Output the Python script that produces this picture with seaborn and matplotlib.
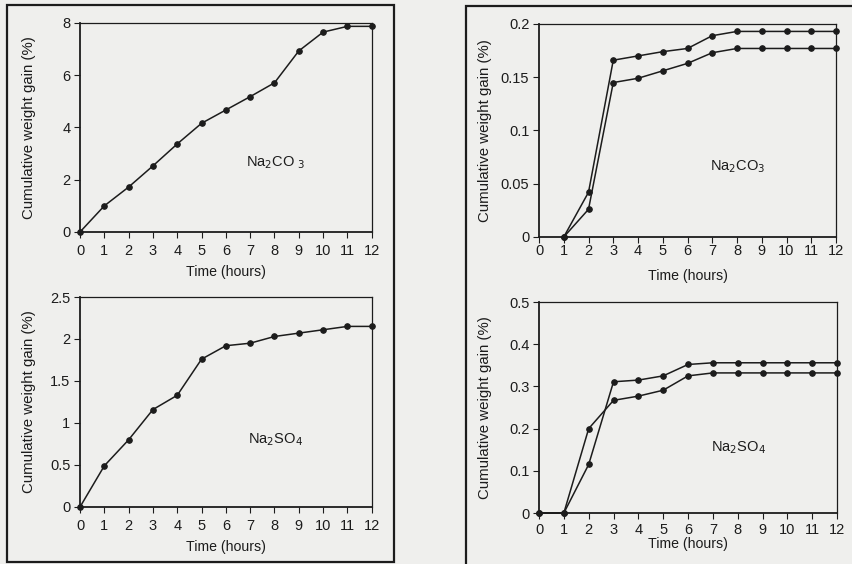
import numpy as np
import pandas as pd
import matplotlib
matplotlib.use("Agg")
import matplotlib.pyplot as plt
import matplotlib.patches as mpatches
import seaborn as sns

# ── Data ─────────────────────────────────────────────────
hours = list(range(0, 13))
hours_r = list(range(1, 13))

# left column: single series
na2co3_left = [0, 1.0, 1.72, 2.53, 3.37, 4.16, 4.67, 5.18, 5.71, 6.93, 7.65, 7.87, 7.87]
na2so4_left = [0, 0.49, 0.80, 1.16, 1.33, 1.76, 1.92, 1.95, 2.03, 2.07, 2.11, 2.15, 2.15]

# right column: two series each
na2co3_r_a = [0, 0.042, 0.166, 0.170, 0.174, 0.177, 0.189, 0.193, 0.193, 0.193, 0.193, 0.193]
na2co3_r_b = [0, 0.026, 0.145, 0.149, 0.156, 0.163, 0.173, 0.177, 0.177, 0.177, 0.177, 0.177]
na2so4_r_a = [0, 0, 0.115, 0.311, 0.315, 0.325, 0.352, 0.356, 0.356, 0.356, 0.356, 0.356, 0.356]
na2so4_r_b = [0, 0, 0.200, 0.267, 0.277, 0.291, 0.325, 0.332, 0.332, 0.332, 0.332, 0.332, 0.332]

BG = "#efefed"
INK = "#1c1c1c"

sns.set_style("ticks")
plt.rcParams.update({
    "font.family": ["Liberation Sans", "DejaVu Sans"],
    "font.size": 10,
    "axes.facecolor": BG,
    "figure.facecolor": BG,
    "axes.edgecolor": INK,
    "axes.linewidth": 1.0,
    "xtick.color": INK,
    "ytick.color": INK,
    "xtick.direction": "out",
    "ytick.direction": "out",
    "xtick.major.size": 4,
    "ytick.major.size": 4,
    "text.color": INK,
    "axes.labelcolor": INK,
})

fig = plt.figure(figsize=(8.53, 5.64), dpi=100)

# outer frames around each column
fig.patches.append(mpatches.Rectangle((7 / 853, 1 - 562 / 564), 387 / 853, 557 / 564,
                                      transform=fig.transFigure, fill=False,
                                      edgecolor=INK, linewidth=1.6))
fig.patches.append(mpatches.Rectangle((466 / 853, -0.02), 0.6, 1 - 6 / 564 + 0.02,
                                      transform=fig.transFigure, fill=False,
                                      edgecolor=INK, linewidth=1.6))

ax_tl = fig.add_axes([0.0938, 0.5887, 0.342, 0.3706])
ax_bl = fig.add_axes([0.0938, 0.1011, 0.342, 0.3723])
ax_tr = fig.add_axes([0.6319, 0.5798, 0.3482, 0.3777])
ax_br = fig.add_axes([0.6319, 0.0904, 0.3494, 0.3741])


def draw(ax, x, series):
    for s in series:
        df = pd.DataFrame({"t": x, "v": s})
        sns.lineplot(data=df, x="t", y="v", ax=ax, color=INK, linewidth=1.1,
                     marker="o", markersize=4, markeredgecolor=INK,
                     clip_on=False, zorder=3)


draw(ax_tl, hours, [na2co3_left])
draw(ax_bl, hours, [na2so4_left])
draw(ax_tr, hours_r, [na2co3_r_a, na2co3_r_b])
draw(ax_br, hours, [na2so4_r_a, na2so4_r_b])

# axis, ymax, yticks, label, label y, x tick pad, xlabel pad, ylabel x (axes coords)
setup = [
    (ax_tl, 8, [0, 2, 4, 6, 8], r"Na$_2$CO$_{\ 3}$", 2.64, 5, 5, -0.152),
    (ax_bl, 2.5, [0, 0.5, 1, 1.5, 2, 2.5], r"Na$_2$SO$_4$", 0.80, 5, 5, -0.152),
    (ax_tr, 0.2, [0, 0.05, 0.1, 0.15, 0.2], r"Na$_2$CO$_3$", 0.066, 1, 8, -0.157),
    (ax_br, 0.5, [0, 0.1, 0.2, 0.3, 0.4, 0.5], r"Na$_2$SO$_4$", 0.154, 3, 0, -0.157),
]
for ax, ymax, yt, label, ylab, xpad, lpad, ylx in setup:
    ax.set_xlim(0, 12)
    ax.set_ylim(0, ymax)
    ax.set_xticks(hours)
    ax.set_yticks(yt)
    ax.set_yticklabels([f"{v:g}" for v in yt])
    ax.set_xlabel("Time (hours)", labelpad=lpad, fontsize=10.2)
    ax.set_ylabel("Cumulative weight gain (%)", fontsize=10.8)
    ax.yaxis.set_label_coords(ylx, 0.5)
    ax.text(8.05, ylab, label, ha="center", va="center", fontsize=10.5)
    for side in ["top", "right", "left", "bottom"]:
        ax.spines[side].set_visible(True)
        ax.spines[side].set_color(INK)
    ax.spines["left"].set_linewidth(1.3)
    ax.spines["bottom"].set_linewidth(1.3)
    ax.spines["top"].set_linewidth(0.9)
    ax.spines["right"].set_linewidth(0.9)
    ax.tick_params(axis="both", labelsize=10.5)
    ax.tick_params(axis="x", pad=xpad)
    ax.tick_params(axis="y", pad=3)

fig.savefig("out.png", dpi=100, facecolor=BG)
